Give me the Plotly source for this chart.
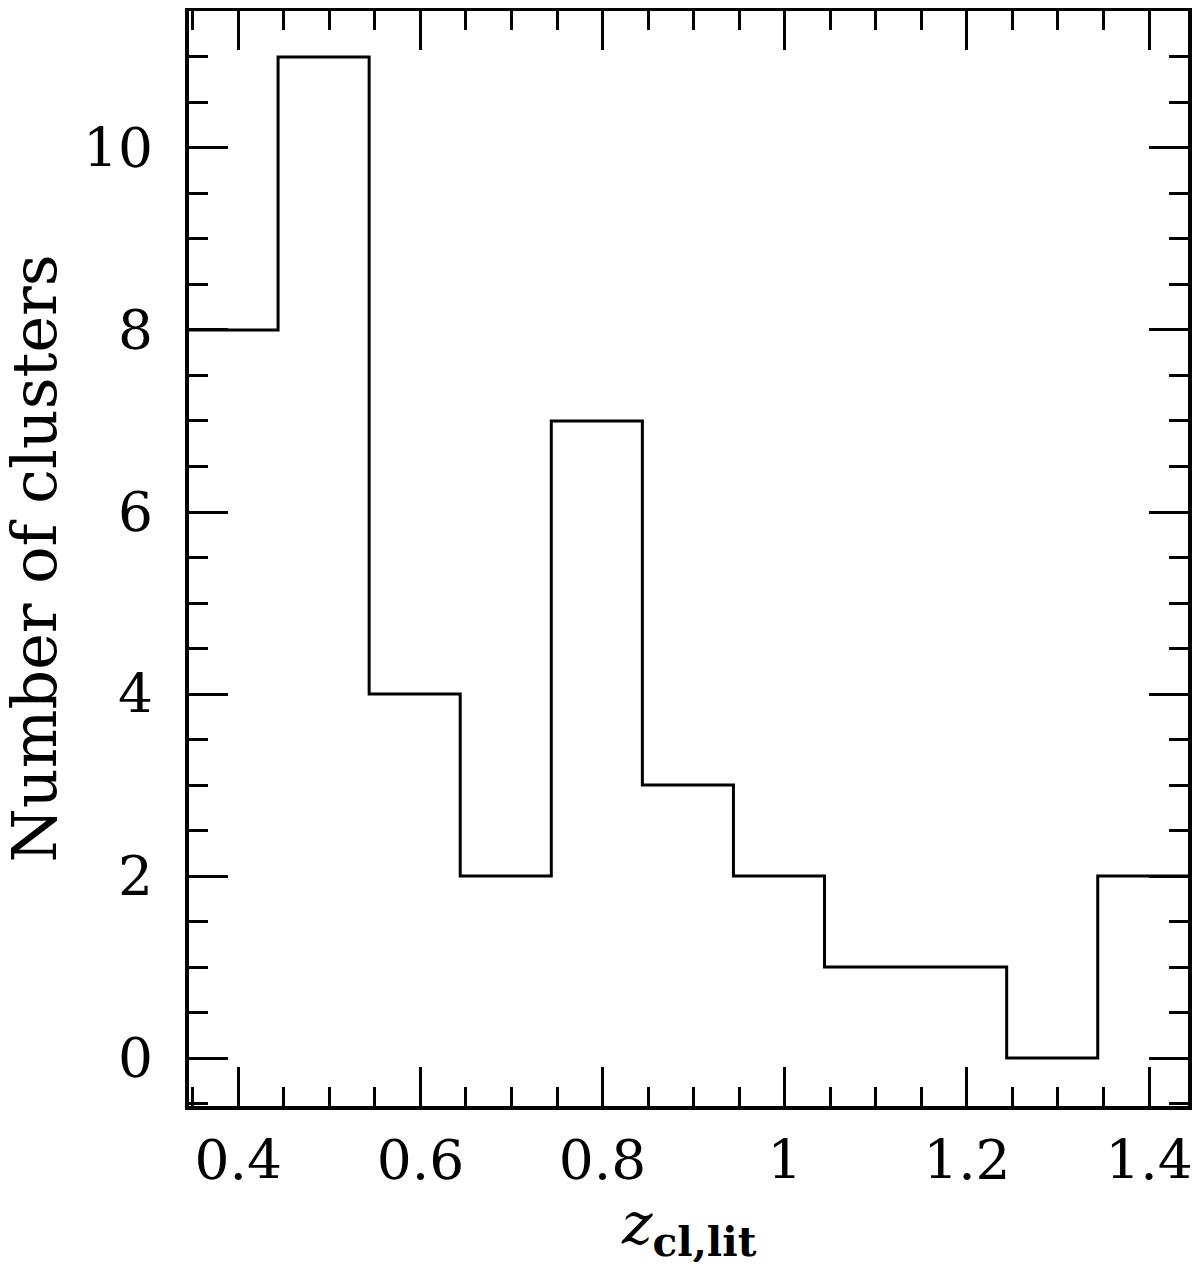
"""Histogram of literature cluster redshifts, drawn as a step outline."""

import plotly.graph_objects as go

# bin edges (redshift) and counts per bin
bin_edges = [0.3437, 0.4437, 0.5437, 0.6437, 0.7437, 0.8437, 0.9437,
             1.0437, 1.1437, 1.2437, 1.3437, 1.4437]
counts = [8, 11, 4, 2, 7, 3, 2, 1, 1, 0, 2]

x_tickvals = [0.4, 0.6, 0.8, 1.0, 1.2, 1.4]
x_ticktext = ["0.4", "0.6", "0.8", "1", "1.2", "1.4"]
y_tickvals = [0, 2, 4, 6, 8, 10]

FONT = "DejaVu Serif"

fig = go.Figure(go.Scatter(
    x=bin_edges,
    y=counts + [counts[-1]],
    mode="lines",
    line=dict(shape="hv", color="black", width=3),
    showlegend=False,
    hoverinfo="skip",
))

axis_common = dict(
    showgrid=False,
    zeroline=False,
    showline=True,
    linecolor="black",
    linewidth=4,
    mirror="allticks",
    ticks="inside",
    ticklen=39,
    tickwidth=3,
    tickcolor="black",
    tickfont=dict(family=FONT, size=55, color="black"),
    ticklabeloverflow="allow",
    automargin=False,
)

fig.update_xaxes(
    **axis_common,
    range=[0.3459, 1.4428],
    tickvals=x_tickvals,
    ticktext=x_ticktext,
    minor=dict(dtick=0.05, tick0=0.35, ticks="inside", ticklen=19,
               tickwidth=3, tickcolor="black", showgrid=False),
    ticklabelstandoff=3,
)
fig.update_yaxes(
    **axis_common,
    range=[-0.527, 11.505],
    tickvals=y_tickvals,
    minor=dict(dtick=0.5, tick0=0, ticks="inside", ticklen=19,
               tickwidth=3, tickcolor="black", showgrid=False),
    ticklabelstandoff=21,
)

# axis titles as annotations for exact placement
fig.add_annotation(
    text="<i>z</i><sub><b>cl,lit</b></sub>",
    xref="paper", yref="paper", x=0.5, y=0,
    xanchor="center", yanchor="top", yshift=-82,
    showarrow=False,
    font=dict(family=FONT, size=58, color="black"),
)
fig.add_annotation(
    text="Number of clusters",
    xref="paper", yref="paper", x=0, y=0.5,
    xanchor="center", yanchor="middle", xshift=-155,
    textangle=-90,
    showarrow=False,
    font=dict(family=FONT, size=62, color="black"),
)

# the page adds an 8px margin, so the figure is sized to stay in view
fig.update_layout(
    width=1184,
    height=1254,
    plot_bgcolor="white",
    paper_bgcolor="white",
    margin=dict(l=181, r=4, t=3, b=156),
)

fig.write_html("out.html")
